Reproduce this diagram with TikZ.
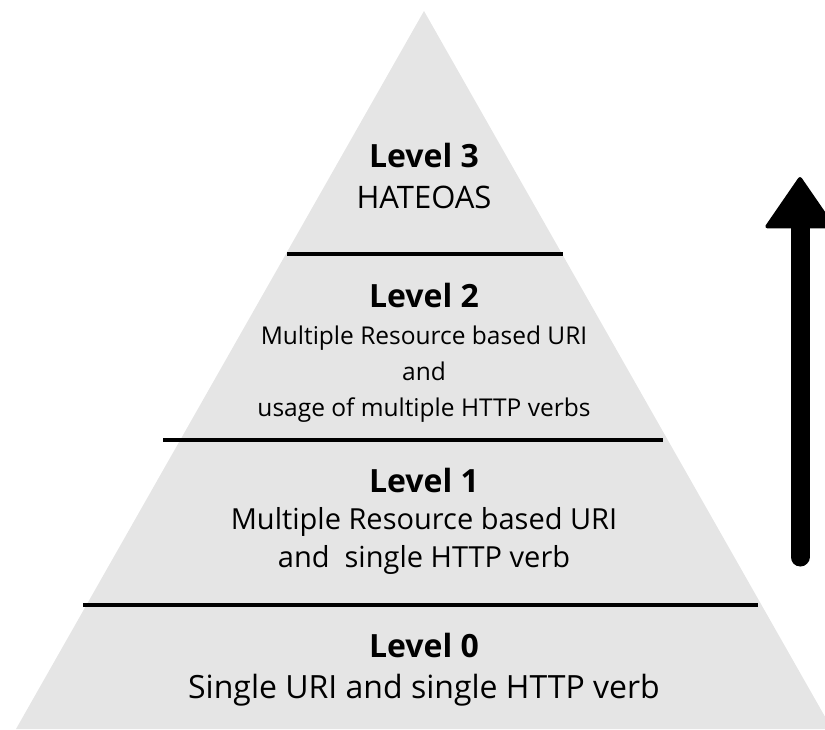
\documentclass[tikz,border=0pt]{standalone}
\usepackage{fontspec}
\setmainfont{Open Sans}
\usetikzlibrary{positioning,arrows.meta}

\begin{document}
\begin{tikzpicture}[
  x=1pt, y=-1pt,
  title/.style={font=\fontsize{32}{38}\bfseries\selectfont, inner sep=0pt},
  desc/.style={align=center, inner sep=0pt},
  divider/.style={line width=4pt},
  upward/.style={line width=19pt, line cap=round,
    -{Triangle[width=72pt,length=53pt,round,line width=4pt]}}
]
\useasboundingbox (0,0) rectangle (825,729);
\clip (0,0) rectangle (825,729);
% pyramid
\coordinate (apex) at (424,11);
\coordinate (bl) at (16,729);
\coordinate (br) at (832,729);
\fill[gray!20] (apex) -- (bl) -- (br) -- cycle;
% dividers
\coordinate (s1l) at (287,254); \coordinate (s1r) at (563,254);
\coordinate (s2l) at (163,440); \coordinate (s2r) at (663,440);
\coordinate (s3l) at (83,605);  \coordinate (s3r) at (758,605);
\draw[divider] (s1l) -- (s1r);
\draw[divider] (s2l) -- (s2r);
\draw[divider] (s3l) -- (s3r);
% levels
\node[title] (l3) at (424,155) {Level 3};
\node[desc,font=\fontsize{31}{36}\selectfont] (d3) at (424,197) {HATEOAS};
\node[title] (l2) at (424,295) {Level 2};
\node[desc,font=\fontsize{24.5}{36}\selectfont] (d2) at (424,374) {Multiple Resource based URI\\and\\usage of multiple HTTP verbs};
\node[title] (l1) at (424,480) {Level 1};
\node[desc,font=\fontsize{29}{38}\selectfont] (d1) at (424,541) {Multiple Resource based URI\\and\ \ single HTTP verb};
\node[title] (l0) at (424,645) {Level 0};
\node[desc,font=\fontsize{32}{36}\selectfont] (d0) at (424,690) {Single URI and single HTTP verb};
% arrow
\coordinate (a0) at (800,557);
\coordinate (a1) at (800,177);
\draw[upward] (a0) -- (a1);
\end{tikzpicture}
\end{document}
